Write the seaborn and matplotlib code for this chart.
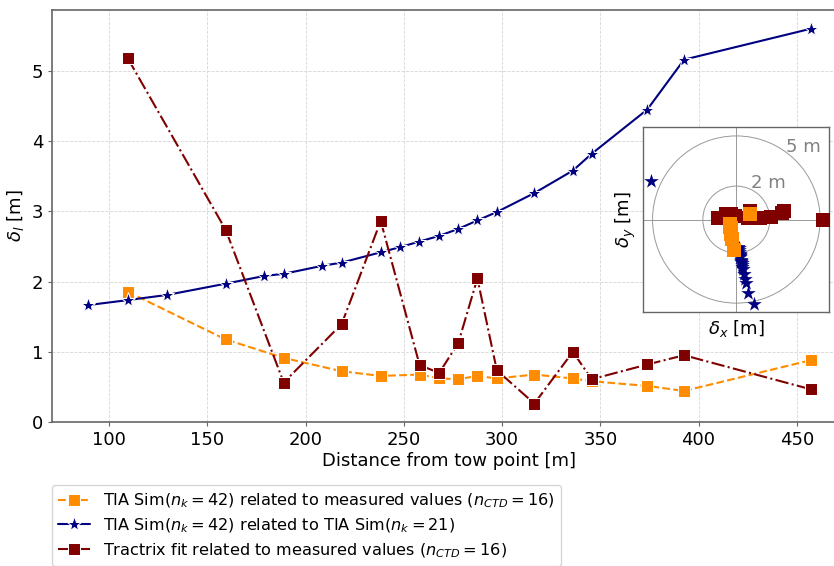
import numpy as np
import pandas as pd
import matplotlib
matplotlib.use('Agg')
import matplotlib.pyplot as plt
import seaborn as sns

# distances from tow point [m]
x_ctd = [109.4, 159.3, 188.8, 218.3, 238.2, 258.0, 268.0, 277.7, 287.4, 297.3,
         316.4, 336.0, 345.6, 373.9, 392.6, 457.1]
x_sim = [89.3, 109.4, 129.5, 159.3, 178.9, 188.8, 208.5, 218.3, 238.2, 248.0,
         257.9, 267.9, 277.7, 287.4, 297.3, 316.4, 336.0, 345.6, 373.9, 392.6, 457.1]

# delta_l [m]
tia_meas = [1.855, 1.175, 0.913, 0.723, 0.656, 0.676, 0.62, 0.61, 0.656, 0.62,
            0.676, 0.62, 0.58, 0.514, 0.442, 0.88]
tia_sim = [1.665, 1.736, 1.81, 1.97, 2.08, 2.11, 2.225, 2.27, 2.417, 2.49, 2.57,
           2.65, 2.75, 2.87, 2.99, 3.26, 3.58, 3.82, 4.45, 5.16, 5.60]
tractrix = [5.18, 2.735, 0.562, 1.394, 2.863, 0.809, 0.70, 1.127, 2.045, 0.737,
            0.262, 0.999, 0.609, 0.819, 0.951, 0.466]

# inset: horizontal offsets delta_x, delta_y [m]
tia_meas_dx = [-0.12, -0.24, -0.29, -0.32, -0.33, -0.33, -0.34, -0.34, -0.33, -0.34,
               -0.33, -0.34, -0.35, -0.36, -0.37, 0.80]
tia_meas_dy = [-1.85, -1.15, -0.87, -0.65, -0.57, -0.59, -0.52, -0.51, -0.57, -0.52,
               -0.59, -0.52, -0.47, -0.37, -0.24, 0.36]
tia_sim_dx = [0.12, 0.14, 0.15, 0.18, 0.21, 0.21, 0.24, 0.24, 0.27, 0.29, 0.30,
              0.32, 0.34, 0.36, 0.39, 0.44, 0.51, 0.55, 0.67, 1.03, -5.08]
tia_sim_dy = [-1.66, -1.73, -1.80, -1.96, -2.07, -2.10, -2.21, -2.26, -2.40, -2.47, -2.55,
              -2.63, -2.73, -2.85, -2.96, -3.23, -3.54, -3.78, -4.39, -5.06, 2.32]
tractrix_dx = [5.18, 2.70, -0.45, 1.39, 2.82, 0.80, -0.62, -1.10, 2.04, 0.72,
               -0.10, 0.99, -0.50, 0.81, 0.80, -0.30]
tractrix_dy = [0.0, 0.40, 0.33, 0.10, 0.48, 0.10, 0.33, 0.10, 0.15, 0.10,
               0.24, 0.10, 0.35, 0.12, 0.50, 0.35]

sns.set_style('whitegrid', {'grid.linestyle': '--', 'grid.color': '#d6d6d6',
                            'axes.edgecolor': '#666666', 'xtick.bottom': True,
                            'ytick.left': True, 'text.color': 'black',
                            'axes.labelcolor': 'black', 'xtick.color': 'black',
                            'ytick.color': 'black'})
plt.rcParams['font.family'] = ['DejaVu Sans']
plt.rcParams['grid.linewidth'] = 0.6

fig = plt.figure(figsize=(8.34, 5.66), dpi=100)
ax = fig.add_axes([0.0625, 0.2544, 0.9529, 0.7279])

sns.lineplot(x=x_ctd, y=tia_meas, ax=ax, color='darkorange', linestyle='--', marker='s',
             markersize=9, lw=1.5,
             label=r'TIA Sim($n_k=42$) related to measured values ($n_{CTD}=16$)')
sns.lineplot(x=x_sim, y=tia_sim, ax=ax, color='navy', linestyle='-', marker='*',
             markersize=11, lw=1.5,
             label=r'TIA Sim($n_k=42$) related to TIA Sim($n_k=21$)')
sns.lineplot(x=x_ctd, y=tractrix, ax=ax, color='maroon', linestyle='-.', marker='s',
             markersize=9, lw=1.5,
             label=r'Tractrix fit related to measured values ($n_{CTD}=16$)')

ax.set_ylim(bottom=0)
ax.set_xlabel('Distance from tow point [m]', fontsize=13, labelpad=2)
ax.set_ylabel(r'$\delta_l$ [m]', fontsize=13)
ax.tick_params(labelsize=13, length=3, color='#666666')
for s in ax.spines.values():
    s.set_linewidth(1.2)

ax.legend(loc='upper left', bbox_to_anchor=(0.062, 0.143), bbox_transform=fig.transFigure,
          borderaxespad=0, fontsize=11.6, frameon=True, labelspacing=0.4)

# inset with horizontal offsets
ins = fig.add_axes([0.7714, 0.4482, 0.2230, 0.3279])
ins.set_facecolor('white')
ins.grid(False)
for r in [2, 5]:
    ins.add_patch(plt.Circle((0, 0), r, fill=False, color='#999999', lw=0.7))
ins.axhline(0, color='#999999', lw=0.7)
ins.axvline(0, color='#999999', lw=0.7)
ins.text(4.0, 4.35, '5 m', color='gray', fontsize=13, ha='center', va='center')
ins.text(1.9, 2.2, '2 m', color='gray', fontsize=13, ha='center', va='center')
sns.scatterplot(x=tia_sim_dx, y=tia_sim_dy, ax=ins, color='navy', marker='*', s=120,
                linewidth=0, zorder=3)
sns.scatterplot(x=tractrix_dx, y=tractrix_dy, ax=ins, color='maroon', marker='s', s=110,
                linewidth=0, zorder=4)
sns.scatterplot(x=tia_meas_dx, y=tia_meas_dy, ax=ins, color='darkorange', marker='s', s=110,
                linewidth=0, zorder=5)
ins.set_xlim(-5.55, 5.55)
ins.set_ylim(-5.55, 5.55)
ins.set_xticks([])
ins.set_yticks([])
ins.set_xlabel(r'$\delta_x$ [m]', fontsize=13, labelpad=4)
ins.set_ylabel(r'$\delta_y$ [m]', fontsize=13, labelpad=4)
for s in ins.spines.values():
    s.set_linewidth(1.0)

fig.savefig('out.png', dpi=100)
